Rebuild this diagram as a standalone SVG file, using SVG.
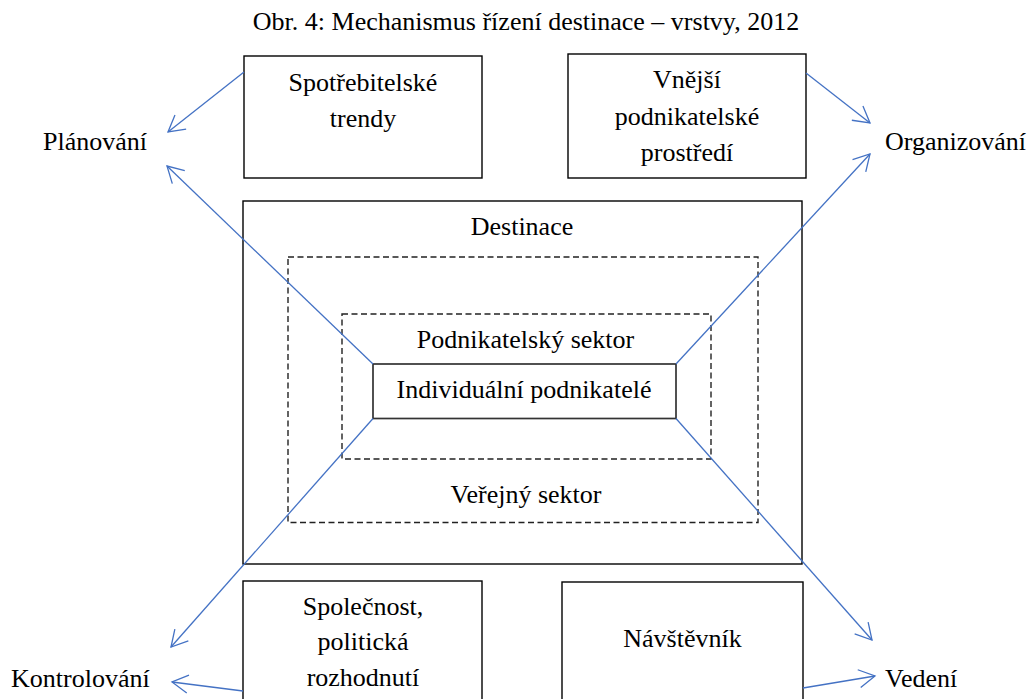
<svg xmlns="http://www.w3.org/2000/svg" width="1032" height="699" viewBox="0 0 1032 699" font-family="'Liberation Serif', 'Times New Roman', serif">
<style>
text{font-family:"Liberation Serif","Times New Roman",serif;font-size:26px;fill:#000;text-anchor:middle}
.box{fill:#fff;stroke:#000;stroke-width:1.4}
.inner{fill:#fff;stroke:#333;stroke-width:1.7}
.dash{fill:none;stroke:#222;stroke-width:1.4;stroke-dasharray:6 3.5}
.conn{stroke:#4472C4;stroke-width:1.3;fill:none;marker-end:url(#arr)}
.lbl{text-anchor:start}
</style>
<defs>
<marker id="arr" markerUnits="userSpaceOnUse" markerWidth="24" markerHeight="24" viewBox="-20 -12 24 24" refX="0" refY="0" orient="auto">
<path d="M-16,-9 L0,0 L-16,9" fill="none" stroke="#4472C4" stroke-width="1.3"/>
</marker>
</defs>
<rect width="1032" height="699" fill="#fff"/>
<text x="526" y="30">Obr. 4: Mechanismus řízení destinace – vrstvy, 2012</text>
<g id="spotrebitelske-trendy">
<rect class="box" x="244" y="56" width="238" height="122"/>
<text x="363" y="91">Spotřebitelské</text>
<text x="363" y="127">trendy</text>
</g>
<g id="vnejsi-prostredi">
<rect class="box" x="568" y="54" width="238" height="124"/>
<text x="687" y="88">Vnější</text>
<text x="687" y="125">podnikatelské</text>
<text x="687" y="161">prostředí</text>
</g>
<g id="destinace">
<rect class="box" x="243" y="201" width="559" height="363"/>
<text x="522" y="235">Destinace</text>
</g>
<g id="verejny-sektor">
<rect class="dash" x="288" y="257" width="470" height="265.5"/>
<text x="526" y="503">Veřejný sektor</text>
</g>
<g id="podnikatelsky-sektor">
<rect class="dash" x="342" y="314" width="369" height="145"/>
<text x="525.5" y="348">Podnikatelský sektor</text>
</g>
<g id="individualni-podnikatele">
<rect class="inner" x="373" y="364" width="303" height="54.5"/>
<text x="524" y="398">Individuální podnikatelé</text>
</g>
<g id="spolecnost">
<rect class="box" x="243" y="581" width="239" height="130"/>
<text x="363" y="615">Společnost,</text>
<text x="363" y="650">politická</text>
<text x="363" y="686">rozhodnutí</text>
</g>
<g id="navstevnik">
<rect class="box" x="562" y="582" width="241" height="130"/>
<text x="682.5" y="647">Návštěvník</text>
</g>
<g id="planovani"><text class="lbl" x="43" y="150">Plánování</text></g>
<g id="organizovani"><text class="lbl" x="885" y="150">Organizování</text></g>
<g id="kontrolovani"><text class="lbl" x="11" y="687">Kontrolování</text></g>
<g id="vedeni"><text class="lbl" x="885" y="687">Vedení</text></g>
<g id="connectors">
<line class="conn" x1="244" y1="72" x2="168" y2="132"/>
<line class="conn" x1="373" y1="364" x2="167" y2="166"/>
<line class="conn" x1="806" y1="73" x2="870" y2="123"/>
<line class="conn" x1="676" y1="364" x2="870" y2="154"/>
<line class="conn" x1="373" y1="418.5" x2="171" y2="647"/>
<line class="conn" x1="243" y1="691" x2="172" y2="682"/>
<line class="conn" x1="676" y1="418.5" x2="872" y2="640"/>
<line class="conn" x1="803" y1="688" x2="875" y2="676"/>
</g>
</svg>
